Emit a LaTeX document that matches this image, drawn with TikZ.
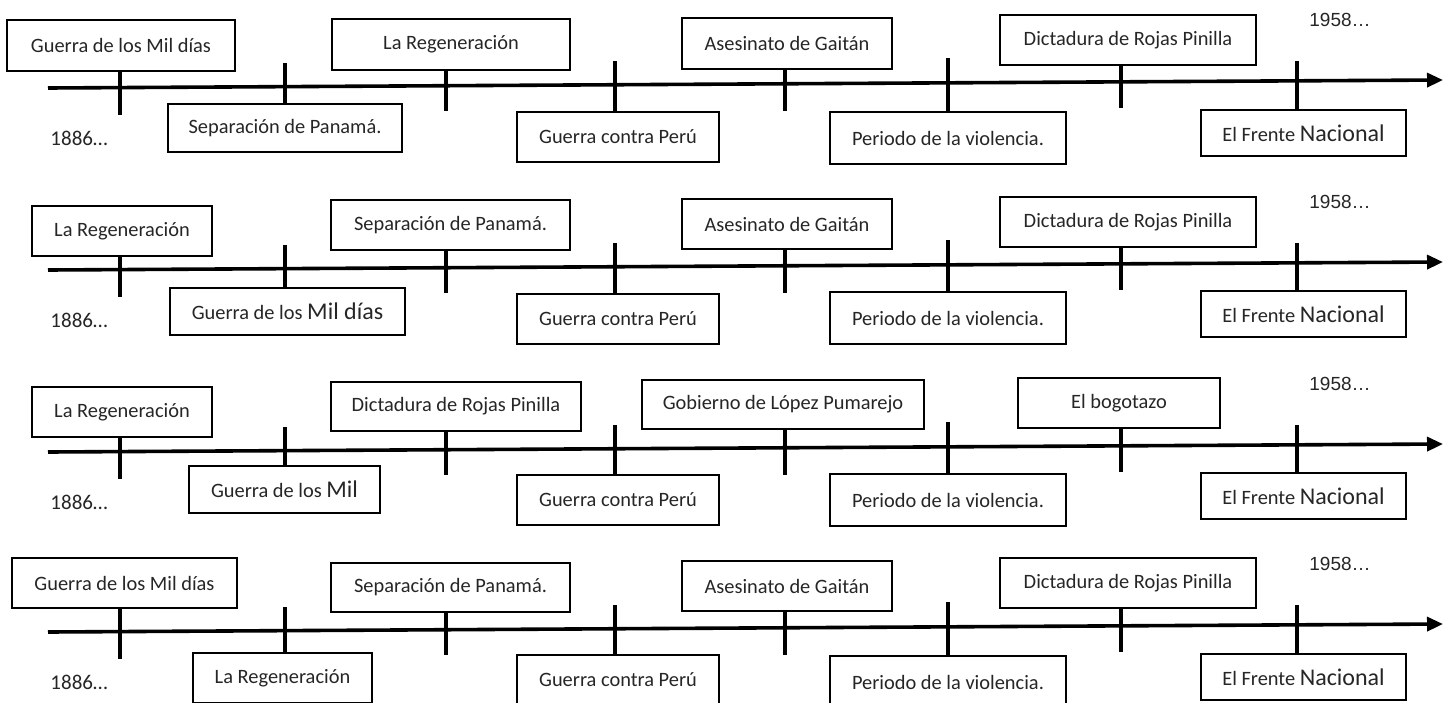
\documentclass[tikz,border=0pt]{standalone}
\usepackage{fontspec}
\setmainfont{Carlito}
\newfontfamily\yearfont{Liberation Sans}
\usetikzlibrary{arrows.meta}

\newcommand\bigword[1]{{\fontsize{24}{27}\selectfont #1}}

\begin{document}
\begin{tikzpicture}[
        x=1pt, y=-1pt,
        event/.style={
            draw,
            line width=2.4pt,
            fill=white,
            inner sep=0pt,
            minimum height=50pt,
            text=black!85,
            font=\fontsize{20.4}{24}\selectfont
        },
        tick/.style={
            line width=3.2pt
        },
        axis/.style={
            line width=3.6pt,
            -{Triangle[length=16pt, width=14pt]}
        },
        start/.style={
            text=black!85,
            font=\fontsize{21}{24}\selectfont
        },
        year/.style={
            text=black!85,
            font=\yearfont\fontsize{19}{22}\selectfont
        }
    ]

    \useasboundingbox (0,0) rectangle (1450,702);

    % row 1
    \begin{scope}
    \node[event, minimum width=228pt, minimum height=51pt] (r1e1) at (121,45.5) {Guerra de los Mil días};
    \node[event, minimum width=234pt, minimum height=48pt] (r1e2) at (285,128) {Separación de Panamá.};
    \node[event, minimum width=238pt, minimum height=51pt] (r1e3) at (451,44.5) {La Regeneración};
    \node[event, minimum width=202pt] (r1e4) at (618,137) {Guerra contra Perú};
    \node[event, minimum width=210pt, minimum height=51pt] (r1e5) at (787,43.5) {Asesinato de Gaitán};
    \node[event, minimum width=236pt, minimum height=52pt] (r1e6) at (948,138) {Periodo de la violencia.};
    \node[event, minimum width=256pt] (r1e7) at (1128,40) {Dictadura de Rojas Pinilla};
    \node[event, minimum width=205pt, minimum height=46pt] (r1e8) at (1303.5,133) {El Frente \bigword{Nacional}};
    \end{scope}

    % row 2
    \begin{scope}[yshift=-182pt]
    \node[event, minimum width=180pt] (r2e1) at (122,49) {La Regeneración};
    \node[event, minimum width=235pt, minimum height=47pt] (r2e2) at (287.5,129.5) {Guerra de los \bigword{Mil días}};
    \node[event, minimum width=239pt] (r2e3) at (450.5,43) {Separación de Panamá.};
    \node[event, minimum width=202pt] (r2e4) at (618,137) {Guerra contra Perú};
    \node[event, minimum width=210pt] (r2e5) at (787,42) {Asesinato de Gaitán};
    \node[event, minimum width=236pt, minimum height=52pt] (r2e6) at (948,136) {Periodo de la violencia.};
    \node[event, minimum width=256pt] (r2e7) at (1128,40) {Dictadura de Rojas Pinilla};
    \node[event, minimum width=205pt, minimum height=46pt] (r2e8) at (1303.5,132) {El Frente \bigword{Nacional}};
    \end{scope}

    % row 3
    \begin{scope}[yshift=-364pt]
    \node[event, minimum width=180pt] (r3e1) at (122,48) {La Regeneración};
    \node[event, minimum width=191pt, minimum height=47pt] (r3e2) at (284.5,125.5) {Guerra de los \bigword{Mil}};
    \node[event, minimum width=250pt, minimum height=49pt] (r3e3) at (456,42.5) {Dictadura de Rojas Pinilla};
    \node[event, minimum width=202pt] (r3e4) at (618,136) {Guerra contra Perú};
    \node[event, minimum width=282pt, minimum height=49pt] (r3e5) at (783,40.5) {Gobierno de López Pumarejo};
    \node[event, minimum width=236pt, minimum height=52pt] (r3e6) at (948,136) {Periodo de la violencia.};
    \node[event, minimum width=202pt] (r3e7) at (1119,39) {El bogotazo};
    \node[event, minimum width=205pt, minimum height=46pt] (r3e8) at (1303.5,132) {El Frente \bigword{Nacional}};
    \end{scope}

    % row 4
    \begin{scope}[yshift=-544pt]
    \node[event, minimum width=225pt] (r4e1) at (124.5,39) {Guerra de los Mil días};
    \node[event, minimum width=179pt] (r4e2) at (282.5,134) {La Regeneración};
    \node[event, minimum width=239pt, minimum height=49pt] (r4e3) at (450.5,43.5) {Separación de Panamá.};
    \node[event, minimum width=202pt] (r4e4) at (618,136) {Guerra contra Perú};
    \node[event, minimum width=210pt] (r4e5) at (787,42) {Asesinato de Gaitán};
    \node[event, minimum width=236pt, minimum height=52pt] (r4e6) at (948,138) {Periodo de la violencia.};
    \node[event, minimum width=256pt] (r4e7) at (1128,39) {Dictadura de Rojas Pinilla};
    \node[event, minimum width=205pt, minimum height=46pt] (r4e8) at (1303.5,133) {El Frente \bigword{Nacional}};
    \end{scope}

    % axes, ticks and years
    \foreach \r/\dy in {1/0, 2/182, 3/364, 4/544} {
        \begin{scope}[yshift=-\dy pt]
        \coordinate (r\r L) at (48,88);
        \coordinate (r\r R) at (1443,80);
        \draw[axis] (r\r L) -- (r\r R);
        \foreach \n/\x/\y/\side in {1/120/115/south, 2/285/63/north, 3/446/111/south, 4/615/61/north,
                                    5/785/111/south, 6/948/58/north, 7/1121/108/south, 8/1297/61/north} {
            \coordinate (r\r t\n) at (\x,\y);
            \draw[tick] (r\r e\n.\side -| r\r t\n) -- (r\r t\n);
        }
        \node[start] (r\r s) at (79,138) {1886…};
        \node[year] (r\r f) at (1340,20) {1958…};
        \end{scope}
    }

\end{tikzpicture}
\end{document}
